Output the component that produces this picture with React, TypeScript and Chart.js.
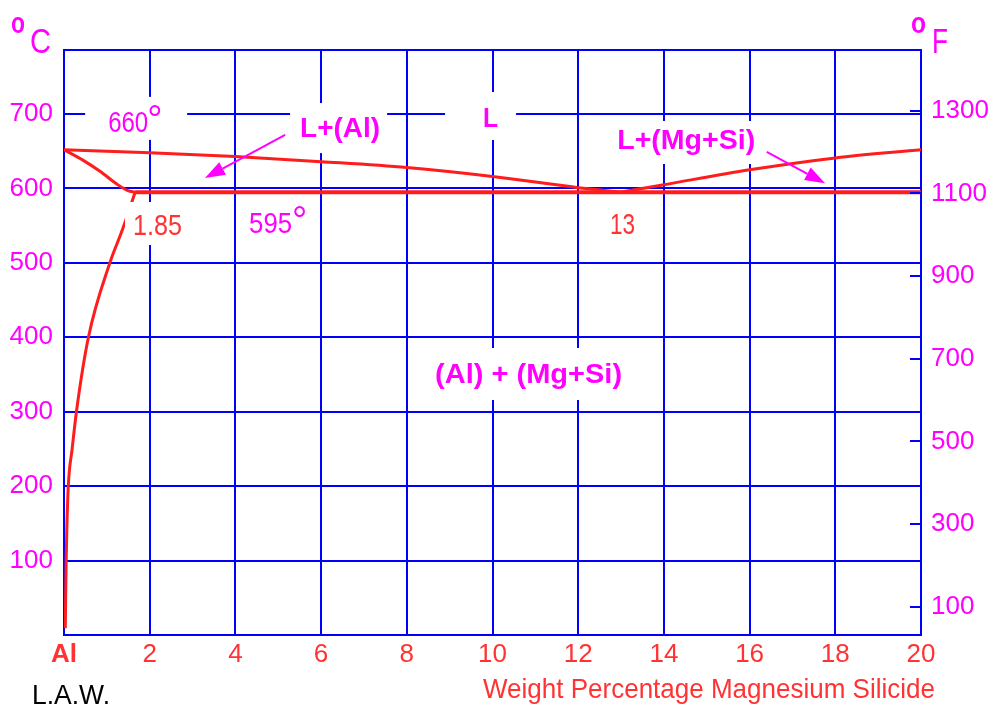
import React, { useEffect, useRef } from "react";
import { Chart, registerables } from "chart.js";

Chart.register(...registerables);

// ---- data ----
const xTicks = [0, 2, 4, 6, 8, 10, 12, 14, 16, 18, 20];
const yTicksC = [0, 100, 200, 300, 400, 500, 600, 700];
const yTicksF = [100, 300, 500, 700, 900, 1100, 1300];

const liqLeftX = [0, 2, 4, 6, 8, 10, 12, 13];
const liqLeftY = [652, 648, 643, 636, 628, 616, 601, 595];
const liqRightX = [13, 14, 16, 18, 20];
const liqRightY = [595, 605, 625, 641, 652];
const eutecticX = [1.66, 20];
const eutecticY = [595, 595];
const solidusX = [0, 0.44, 0.84, 1.23, 1.49, 1.66];
const solidusY = [652, 638, 623, 606, 597, 595];
const solvusX = [0.03, 0.05, 0.07, 0.1, 0.19, 0.29, 0.57, 1.07, 1.36, 1.66];
const solvusY = [9, 100, 150, 200, 250, 300, 400, 500, 544, 595];

const Y_MAX_C = 786;

const FONT = "'Liberation Sans', Arial, Helvetica, sans-serif";
const BLUE = "#0000ff";
const MAGENTA = "#ff00ff";
const RED_TEXT = "#ff3333";
const RED_LINE = "#ff1c1c";

// in-plot labels anchored in data units (left, baseline)
const plotLabels = [
  { text: "660", x: 1.03, y: 676, w: 40, size: 29, bold: false, color: MAGENTA, box: [-23, -35, 102, 43] },
  { text: "°", x: 1.94, y: 676, size: 38, bold: false, color: MAGENTA },
  { text: "L+(Al)", x: 5.51, y: 669, w: 80, size: 28, bold: true, color: MAGENTA, box: [-10, -34, 97, 50] },
  { text: "L", x: 9.78, y: 682.5, w: 15, size: 28, bold: true, color: MAGENTA, box: [-38, -35, 71, 48] },
  { text: "L+(Mg+Si)", x: 12.91, y: 653, w: 138, size: 28, bold: true, color: MAGENTA, box: [-7, -28, 150, 43] },
  { text: "1.85", x: 1.61, y: 537.4, w: 49, size: 29, bold: false, color: RED_TEXT, box: [-8, -33, 60, 43] },
  { text: "595", x: 4.32, y: 540, w: 43, size: 29, bold: false, color: MAGENTA },
  { text: "°", x: 5.32, y: 540, size: 38, bold: false, color: MAGENTA },
  { text: "13", x: 12.74, y: 538.8, w: 25, size: 29, bold: false, color: RED_TEXT },
  { text: "(Al) + (Mg+Si)", x: 8.66, y: 338.6, w: 187, size: 28, bold: true, color: MAGENTA, box: [-7, -35, 202, 52] },
];

// labels outside the plot, canvas pixels (left, baseline)
const pageLabels = [
  { text: "o", x: 11, y: 33, w: 14, size: 30, bold: true, color: MAGENTA },
  { text: "C", x: 30, y: 53, w: 21, size: 35, bold: false, color: MAGENTA },
  { text: "o", x: 911, y: 33, w: 15, size: 30, bold: true, color: MAGENTA },
  { text: "F", x: 932, y: 53, w: 16, size: 35, bold: false, color: MAGENTA },
  { text: "L.A.W.", x: 32, y: 704, w: 78, size: 27, bold: false, color: "#000000" },
  { text: "Weight Percentage Magnesium Silicide", x: 483, y: 698, w: 452, size: 28, bold: false, color: RED_TEXT },
];

const arrows = [
  { x1: 5.16, y1: 672, x2: 3.29, y2: 614 },
  { x1: 16.4, y1: 649, x2: 17.76, y2: 607 },
];

function pts(xs: number[], ys: number[]) {
  return xs.map((x, i) => ({ x, y: ys[i] }));
}

function drawLabel(ctx: CanvasRenderingContext2D, l: any, px: number, py: number) {
  ctx.save();
  ctx.font = `${l.bold ? "bold " : ""}${l.size}px ${FONT}`;
  if (l.box) {
    ctx.fillStyle = "#ffffff";
    ctx.fillRect(px + l.box[0], py + l.box[1], l.box[2], l.box[3]);
  }
  ctx.fillStyle = l.color;
  ctx.textAlign = "left";
  ctx.textBaseline = "alphabetic";
  ctx.translate(px, py);
  if (l.w) {
    const m = ctx.measureText(l.text).width;
    ctx.scale(l.w / m, 1);
  }
  ctx.fillText(l.text, 0, 0);
  ctx.restore();
}

const overlay = {
  id: "overlay",
  beforeDraw(chart: any) {
    const ctx = chart.ctx;
    ctx.save();
    ctx.fillStyle = "#ffffff";
    ctx.fillRect(0, 0, chart.width, chart.height);
    ctx.restore();
  },
  beforeDatasetsDraw(chart: any) {
    const ctx = chart.ctx;
    const a = chart.chartArea;
    ctx.save();
    ctx.strokeStyle = BLUE;
    ctx.lineWidth = 2;
    ctx.beginPath();
    ctx.moveTo(a.left - 1, a.top);
    ctx.lineTo(a.right + 1, a.top);
    ctx.stroke();
    ctx.restore();
  },
  afterDatasetsDraw(chart: any) {
    const ctx = chart.ctx;
    const xs = chart.scales.x;
    const ys = chart.scales.y;
    const y2 = chart.scales.y2;
    const a = chart.chartArea;
    // inward ticks on right (°F) axis
    ctx.save();
    ctx.strokeStyle = BLUE;
    ctx.lineWidth = 2;
    yTicksF.forEach((f) => {
      const py = Math.round(y2.getPixelForValue(f));
      ctx.beginPath();
      ctx.moveTo(a.right - 11, py);
      ctx.lineTo(a.right, py);
      ctx.stroke();
    });
    ctx.restore();
    // labels
    plotLabels.forEach((l) => drawLabel(ctx, l, xs.getPixelForValue(l.x), ys.getPixelForValue(l.y)));
    pageLabels.forEach((l) => drawLabel(ctx, l, l.x, l.y));
    // arrows
    ctx.save();
    ctx.strokeStyle = MAGENTA;
    ctx.fillStyle = MAGENTA;
    ctx.lineWidth = 2;
    arrows.forEach((ar) => {
      const x1 = xs.getPixelForValue(ar.x1);
      const y1 = ys.getPixelForValue(ar.y1);
      const x2 = xs.getPixelForValue(ar.x2);
      const y2p = ys.getPixelForValue(ar.y2);
      const ang = Math.atan2(y2p - y1, x2 - x1);
      const L = 20;
      const H = 7;
      const bx = x2 - L * Math.cos(ang);
      const by = y2p - L * Math.sin(ang);
      ctx.beginPath();
      ctx.moveTo(x1, y1);
      ctx.lineTo(bx, by);
      ctx.stroke();
      ctx.beginPath();
      ctx.moveTo(x2, y2p);
      ctx.lineTo(bx + H * Math.sin(ang), by - H * Math.cos(ang));
      ctx.lineTo(bx - H * Math.sin(ang), by + H * Math.cos(ang));
      ctx.closePath();
      ctx.fill();
    });
    ctx.restore();
  },
};

export default function App() {
  const ref = useRef<HTMLCanvasElement | null>(null);
  useEffect(() => {
    if (!ref.current) return;
    const lineDs = (xs: number[], ys: number[], width: number) => ({
      data: pts(xs, ys),
      showLine: true,
      borderColor: RED_LINE,
      backgroundColor: RED_LINE,
      borderWidth: width,
      pointRadius: 0,
      cubicInterpolationMode: "monotone",
      fill: false,
    });
    const chart = new Chart(ref.current, {
      type: "scatter",
      data: {
        datasets: [
          lineDs(liqLeftX, liqLeftY, 3),
          lineDs(liqRightX, liqRightY, 3),
          lineDs(solidusX, solidusY, 3),
          lineDs(solvusX, solvusY, 3),
          lineDs(eutecticX, eutecticY, 4),
        ] as any,
      },
      options: {
        responsive: false,
        animation: false,
        events: [],
        layout: { padding: { top: 50, left: 0, right: 0, bottom: 0 } },
        plugins: { legend: { display: false }, tooltip: { enabled: false } },
        scales: {
          x: {
            type: "linear",
            min: 0,
            max: 20,
            afterBuildTicks: (s: any) => {
              s.ticks = xTicks.map((v) => ({ value: v }));
            },
            afterFit: (s: any) => {
              s.height = 70;
            },
            grid: { color: BLUE, lineWidth: 2, drawTicks: false },
            border: { display: true, color: BLUE, width: 2 },
            ticks: {
              autoSkip: false,
              maxRotation: 0,
              padding: 4,
              color: RED_TEXT,
              callback: (v: any) => (v === 0 ? "Al" : String(v)),
              font: (c: any) => ({
                family: FONT,
                size: 26,
                weight: c.tick && c.tick.value === 0 ? "bold" : "normal",
              }),
            },
          },
          y: {
            type: "linear",
            position: "left",
            min: 0,
            max: Y_MAX_C,
            afterBuildTicks: (s: any) => {
              s.ticks = yTicksC.map((v) => ({ value: v }));
            },
            afterFit: (s: any) => {
              s.width = 64;
            },
            grid: { color: BLUE, lineWidth: 2, drawTicks: false },
            border: { display: true, color: BLUE, width: 2 },
            ticks: {
              padding: 11,
              color: MAGENTA,
              font: { family: FONT, size: 26 },
              callback: (v: any) => (v === 0 ? "" : String(v)),
            },
          },
          y2: {
            type: "linear",
            position: "right",
            min: 32,
            max: Y_MAX_C * 1.8 + 32,
            afterBuildTicks: (s: any) => {
              s.ticks = yTicksF.map((v) => ({ value: v }));
            },
            afterFit: (s: any) => {
              s.width = 67;
            },
            grid: { display: false, drawTicks: false },
            border: { display: true, color: BLUE, width: 2 },
            ticks: {
              padding: 10,
              color: MAGENTA,
              font: { family: FONT, size: 26 },
              callback: (v: any) => String(v),
            },
          },
        },
      } as any,
      plugins: [overlay],
    });
    return () => chart.destroy();
  }, []);
  return (
    <div style={{ position: "fixed", left: 0, top: 0, width: 988, height: 705, background: "#fff" }}>
      <canvas ref={ref} width={988} height={705} />
    </div>
  );
}
